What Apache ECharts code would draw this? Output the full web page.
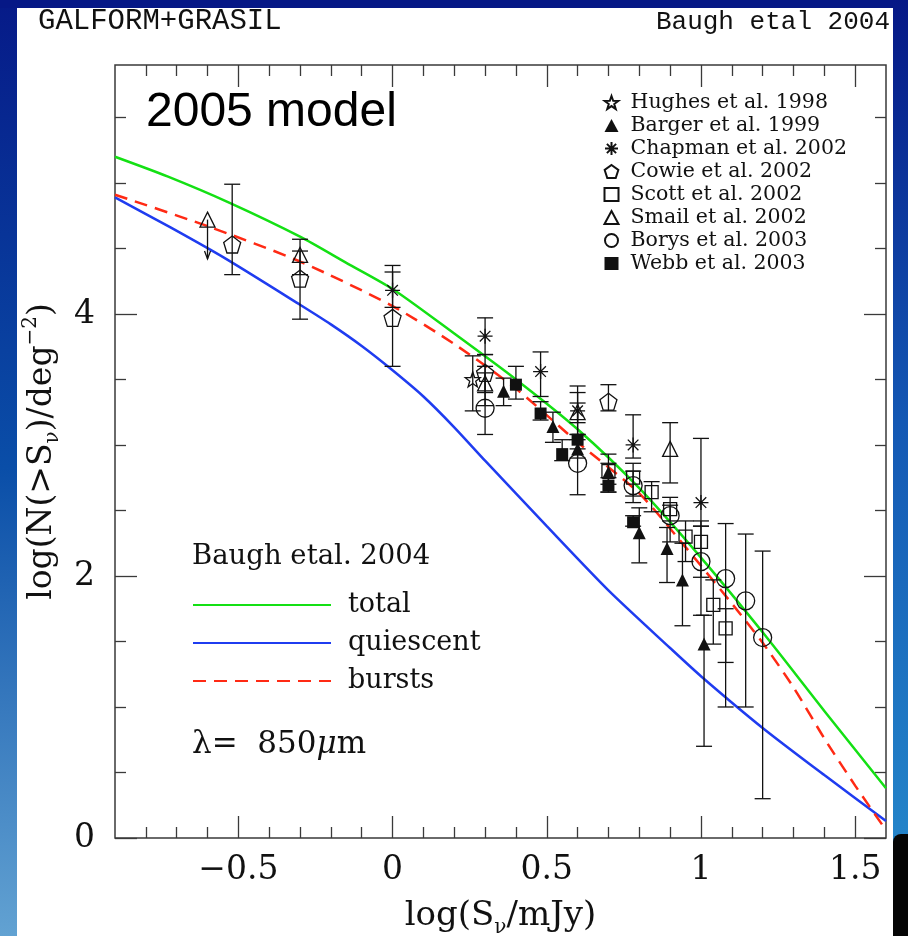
<!DOCTYPE html>
<html><head><meta charset="utf-8">
<script src="https://cdn.jsdelivr.net/npm/echarts@6/dist/echarts.min.js"></script>
<style>html,body{margin:0;padding:0;background:#fff}#c{width:908px;height:936px}</style>
</head><body><div id="c"></div>
<script>
// ---- axis ticks ----
const xMajorTicks = [-0.5, 0, 0.5, 1, 1.5];
const xMinorTicks = [-0.8, -0.7, -0.6, -0.4, -0.3, -0.2, -0.1, 0.1, 0.2, 0.3, 0.4, 0.6, 0.7, 0.8, 0.9, 1.1, 1.2, 1.3, 1.4];
const yMajorTicks = [0, 2, 4];
const yMinorTicks = [0.5, 1, 1.5, 2.5, 3, 3.5, 4.5, 5, 5.5];

// ---- model curves [log S, log N] ----
const totalCurve = [[-0.9,5.20],[-0.73,5.05],[-0.53,4.85],[-0.3,4.59],[-0.15,4.39],[0,4.19],[0.2,3.85],[0.4,3.50],[0.6,3.12],[0.8,2.67],[1.0,2.14],[1.2,1.57],[1.4,0.97],[1.6,0.38]];
const quiescentCurve = [[-0.9,4.89],[-0.72,4.66],[-0.54,4.42],[-0.3,4.07],[-0.2,3.92],[-0.1,3.755],[0,3.57],[0.1,3.37],[0.2,3.135],[0.3,2.88],[0.5,2.38],[0.7,1.89],[0.9,1.45],[1.0,1.235],[1.2,0.84],[1.4,0.48],[1.6,0.13]];
const burstsCurve = [[-0.9,4.91],[-0.6,4.67],[-0.3,4.40],[0,4.06],[0.2,3.77],[0.4,3.43],[0.6,3.02],[0.8,2.63],[0.95,2.22],[1.1,1.79],[1.2,1.49],[1.3,1.15],[1.4,0.76],[1.5,0.40],[1.6,0.06]];

// ---- observations [x, y, lower, upper] ----
const hughes = [[0.26,3.50,3.26,3.68]];
const barger = [[0.36,3.41,3.30,3.51],[0.52,3.14,3.02,3.25],[0.60,2.97,2.90,3.04],[0.70,2.79,2.64,2.93],[0.80,2.33,2.10,2.52],[0.89,2.21,1.95,2.37],[0.94,1.97,1.62,2.25],[1.01,1.48,0.70,1.70]];
const chapman = [[0.0,4.18,4.05,4.37],[0.30,3.83,3.69,3.97],[0.48,3.56,3.37,3.71],[0.60,3.26,3.08,3.45],[0.78,3.00,2.90,3.23],[1.0,2.56,2.38,3.05]];
const cowie = [[-0.52,4.53,4.30,4.99],[-0.30,4.27,3.96,4.48],[0.0,3.97,3.60,4.32],[0.30,3.55,3.40,3.69],[0.70,3.33,3.26,3.46]];
const scott = [[0.70,2.80,2.70,2.86],[0.78,2.75,2.61,2.86],[0.84,2.64,2.49,2.72],[0.90,2.51,2.42,2.60],[0.95,2.30,2.11,2.42],[1.0,2.26,1.99,2.42],[1.04,1.78,1.48,1.97],[1.08,1.60,1.00,1.75]];
const smail = [[-0.30,4.45,4.30,4.57],[0.30,3.47,3.30,3.60],[0.60,3.25,3.17,3.40],[0.90,2.97,2.71,3.17]];
const smailLimit = [[-0.60,4.72,4.42]];
const borys = [[0.30,3.28,3.08,3.55],[0.60,2.86,2.62,3.08],[0.78,2.69,2.56,2.80],[0.90,2.46,2.26,2.54],[1.0,2.11,1.70,2.38],[1.08,1.98,1.34,2.40],[1.145,1.81,1.00,2.32],[1.20,1.53,0.30,2.19]];
const webb = [[0.40,3.46,3.35,3.60],[0.48,3.24,3.19,3.33],[0.55,2.93,2.88,3.04],[0.60,3.04,2.97,3.32],[0.70,2.69,2.64,2.75],[0.78,2.41,2.38,2.46]];

const INK = '#111111';
const SERIF = 'DejaVu Serif';
const PENTAGON = 'path://M0,-10L9.51,-3.09L5.88,8.09L-5.88,8.09L-9.51,-3.09Z';
const STAR = 'path://M0,-10L2.35,-3.24L9.51,-3.09L3.8,1.24L5.88,8.09L0,4L-5.88,8.09L-3.8,1.24L-9.51,-3.09L-2.35,-3.24Z';
const ASTER = 'path://M0,-10L0,10M-10,0L10,0M-7.07,-7.07L7.07,7.07M-7.07,7.07L7.07,-7.07';

function errRender(params, api) {
  const x = api.value(0), lo = api.value(2), hi = api.value(3);
  const a = api.coord([x, lo]), b = api.coord([x, hi]);
  const w = 8, st = {stroke: INK, lineWidth: 1.3};
  return {type: 'group', children: [
    {type: 'line', shape: {x1: a[0], y1: a[1], x2: b[0], y2: b[1]}, style: st},
    {type: 'line', shape: {x1: a[0]-w, y1: a[1], x2: a[0]+w, y2: a[1]}, style: st},
    {type: 'line', shape: {x1: b[0]-w, y1: b[1], x2: b[0]+w, y2: b[1]}, style: st}
  ]};
}
function limRender(params, api) {
  const x = api.value(0), y = api.value(1), lim = api.value(2);
  const a = api.coord([x, y]), b = api.coord([x, lim]);
  const st = {stroke: INK, lineWidth: 1.3, fill: null};
  return {type: 'group', children: [
    {type: 'line', shape: {x1: a[0], y1: a[1], x2: b[0], y2: b[1]}, style: st},
    {type: 'polyline', shape: {points: [[b[0]-3, b[1]-8], [b[0], b[1]], [b[0]+3, b[1]-8]]}, style: st}
  ]};
}
function errSeries(data) {
  return {type: 'custom', renderItem: errRender, data: data, encode: {x: 0, y: [1, 2, 3]}, z: 2, silent: true, clip: false};
}
function pts(name, data, symbol, size, filled) {
  return {type: 'scatter', name: name, data: data.map(d => [d[0], d[1]]), symbol: symbol, symbolSize: size,
    itemStyle: filled ? {color: INK, borderWidth: 0, opacity: 1} : {color: 'none', borderColor: INK, borderWidth: 1.3, opacity: 1},
    z: 3, silent: true};
}
function curve(name, data, color, dashed) {
  return {type: 'line', name: name, data: data, symbol: 'none', showSymbol: false, smooth: 0.25, z: 1, silent: true,
    lineStyle: {color: color, width: 2.5, type: dashed ? [13, 8] : 'solid'}, itemStyle: {color: color}};
}

const tickStyle = {color: '#3a3a3a', width: 1.3};
const xBase = {type: 'value', min: -0.9, max: 1.6, splitLine: {show: false}, axisLine: {show: false, onZero: false}};
const yBase = {type: 'value', min: 0, max: 5.9, splitLine: {show: false}, axisLine: {show: false, onZero: false}};
const fmt = v => (v < 0 ? '\u2212' + String(-v) : String(v));

const chart = echarts.init(document.getElementById('c'), null, {renderer: 'canvas'});
chart.setOption({
  animation: false,
  backgroundColor: '#ffffff',
  grid: {left: 115, top: 65, width: 771, height: 773, outerBoundsMode: 'none', containLabel: false, show: true, borderColor: '#3a3a3a', borderWidth: 1.5, backgroundColor: 'transparent'},
  xAxis: [
    Object.assign({}, xBase, {position: 'bottom',
      axisTick: {show: true, inside: true, length: 22, customValues: xMajorTicks, lineStyle: tickStyle},
      axisLabel: {show: true, customValues: xMajorTicks, formatter: fmt, margin: 16, fontFamily: SERIF, fontSize: 33, color: INK},
      name: '{n|log(S}{sub|\u03bd}{n|/mJy)}', nameLocation: 'middle', nameGap: 56,
      nameTextStyle: {fontFamily: SERIF, color: INK, rich: {
        n: {fontFamily: SERIF, fontSize: 34, color: INK, lineHeight: 44},
        sub: {fontFamily: SERIF, fontSize: 20, color: INK, lineHeight: 22, verticalAlign: 'bottom'}}}}),
    Object.assign({}, xBase, {position: 'bottom', axisTick: {show: true, inside: true, length: 11, customValues: xMinorTicks, lineStyle: tickStyle}, axisLabel: {show: false}}),
    Object.assign({}, xBase, {position: 'top', axisTick: {show: true, inside: true, length: 22, customValues: xMajorTicks, lineStyle: tickStyle}, axisLabel: {show: false}}),
    Object.assign({}, xBase, {position: 'top', axisTick: {show: true, inside: true, length: 11, customValues: xMinorTicks, lineStyle: tickStyle}, axisLabel: {show: false}})
  ],
  yAxis: [
    Object.assign({}, yBase, {position: 'left',
      axisTick: {show: true, inside: true, length: 22, customValues: yMajorTicks, lineStyle: tickStyle},
      axisLabel: {show: true, customValues: yMajorTicks, margin: 20, fontFamily: SERIF, fontSize: 33, color: INK},
      name: '{n|log(N(>S}{sub|\u03bd}{n|)/deg}{sup|\u22122}{n|)}', nameLocation: 'middle', nameGap: 52, nameRotate: 90,
      nameTextStyle: {fontFamily: SERIF, color: INK, rich: {
        n: {fontFamily: SERIF, fontSize: 33, color: INK, lineHeight: 42},
        sub: {fontFamily: SERIF, fontSize: 20, color: INK, lineHeight: 22, verticalAlign: 'bottom'},
        sup: {fontFamily: SERIF, fontSize: 20, color: INK, lineHeight: 22, verticalAlign: 'top'}}}}),
    Object.assign({}, yBase, {position: 'left', axisTick: {show: true, inside: true, length: 11, customValues: yMinorTicks, lineStyle: tickStyle}, axisLabel: {show: false}}),
    Object.assign({}, yBase, {position: 'right', axisTick: {show: true, inside: true, length: 22, customValues: yMajorTicks, lineStyle: tickStyle}, axisLabel: {show: false}}),
    Object.assign({}, yBase, {position: 'right', axisTick: {show: true, inside: true, length: 11, customValues: yMinorTicks, lineStyle: tickStyle}, axisLabel: {show: false}})
  ],
  legend: [
    {data: ['Hughes et al. 1998', 'Barger et al. 1999', 'Chapman et al. 2002', 'Cowie et al. 2002', 'Scott et al. 2002', 'Smail et al. 2002', 'Borys et al. 2003', 'Webb et al. 2003'],
     orient: 'vertical', left: 602, top: 92, padding: 0, itemWidth: 14, itemHeight: 13, itemGap: 2, selectedMode: false,
     textStyle: {fontFamily: SERIF, fontSize: 20.5, color: INK, lineHeight: 20, padding: [0, 0, 0, 7]}},
    {data: ['total', 'quiescent', 'bursts'], orient: 'vertical', left: 192, top: 590, padding: 0, itemWidth: 138, itemHeight: 14, itemGap: 8, selectedMode: false,
     itemStyle: {opacity: 0},
     textStyle: {fontFamily: SERIF, fontSize: 27, color: INK, lineHeight: 30, padding: [0, 0, 0, 12]}}
  ],
  series: [
    curve('total', totalCurve, '#14e014', false),
    curve('quiescent', quiescentCurve, '#1f3cf0', false),
    curve('bursts', burstsCurve, '#ff2a14', true),
    errSeries(hughes), errSeries(barger), errSeries(chapman), errSeries(cowie),
    errSeries(scott), errSeries(smail), errSeries(borys), errSeries(webb),
    {type: 'custom', renderItem: limRender, data: smailLimit, encode: {x: 0, y: [1, 2]}, z: 2, silent: true},
    pts('Hughes et al. 1998', hughes, STAR, 15, false),
    pts('Barger et al. 1999', barger, 'triangle', 13, true),
    pts('Chapman et al. 2002', chapman, ASTER, 15, false),
    pts('Cowie et al. 2002', cowie, PENTAGON, 17, false),
    pts('Scott et al. 2002', scott, 'rect', 13, false),
    pts('Smail et al. 2002', smail.concat(smailLimit.map(d => [d[0], d[1]])), 'triangle', 15, false),
    pts('Borys et al. 2003', borys, 'circle', 18, false),
    pts('Webb et al. 2003', webb, 'rect', 12, true)
  ],
  graphic: [
    {type: 'rect', left: 0, top: 0, silent: true, shape: {width: 17, height: 936},
     style: {fill: new echarts.graphic.LinearGradient(0, 0, 0, 1, [{offset: 0, color: '#061a88'}, {offset: 0.5, color: '#0a4ea8'}, {offset: 1, color: '#62a2d2'}])}},
    {type: 'rect', left: 0, top: 0, silent: true, shape: {width: 908, height: 8}, style: {fill: '#061886'}},
    {type: 'rect', left: 893, top: 0, silent: true, shape: {width: 15, height: 936},
     style: {fill: new echarts.graphic.LinearGradient(0, 0, 0, 1, [{offset: 0, color: '#061886'}, {offset: 0.45, color: '#1458b4'}, {offset: 0.88, color: '#2382c8'}, {offset: 1, color: '#2a88cc'}])}},
    {type: 'rect', left: 893, top: 834, silent: true, shape: {width: 15, height: 102, r: [8, 0, 0, 0]}, style: {fill: '#050505'}},
    {type: 'text', left: 38, top: 7, silent: true, style: {text: 'GALFORM+GRASIL', font: '29px "Liberation Mono"', fill: INK}},
    {type: 'text', right: 18, top: 9, silent: true, style: {text: 'Baugh etal 2004', font: '26px "Liberation Mono"', fill: INK}},
    {type: 'text', left: 146, top: 89, silent: true, style: {text: '2005 model', font: '48px "Liberation Sans"', fill: '#000'}},
    {type: 'text', left: 192, top: 543, silent: true, style: {text: 'Baugh etal. 2004', font: '27.5px "DejaVu Serif"', fill: INK}},
    {type: 'text', left: 192, top: 729, silent: true, style: {text: '{a|\u03bb=  850}{b|\u03bc}{a|m}', rich: {
      a: {fontFamily: SERIF, fontSize: 31, fill: INK, color: INK},
      b: {fontFamily: SERIF, fontSize: 31, fontStyle: 'italic', fill: INK, color: INK}}}}
  ]
});
</script></body></html>
